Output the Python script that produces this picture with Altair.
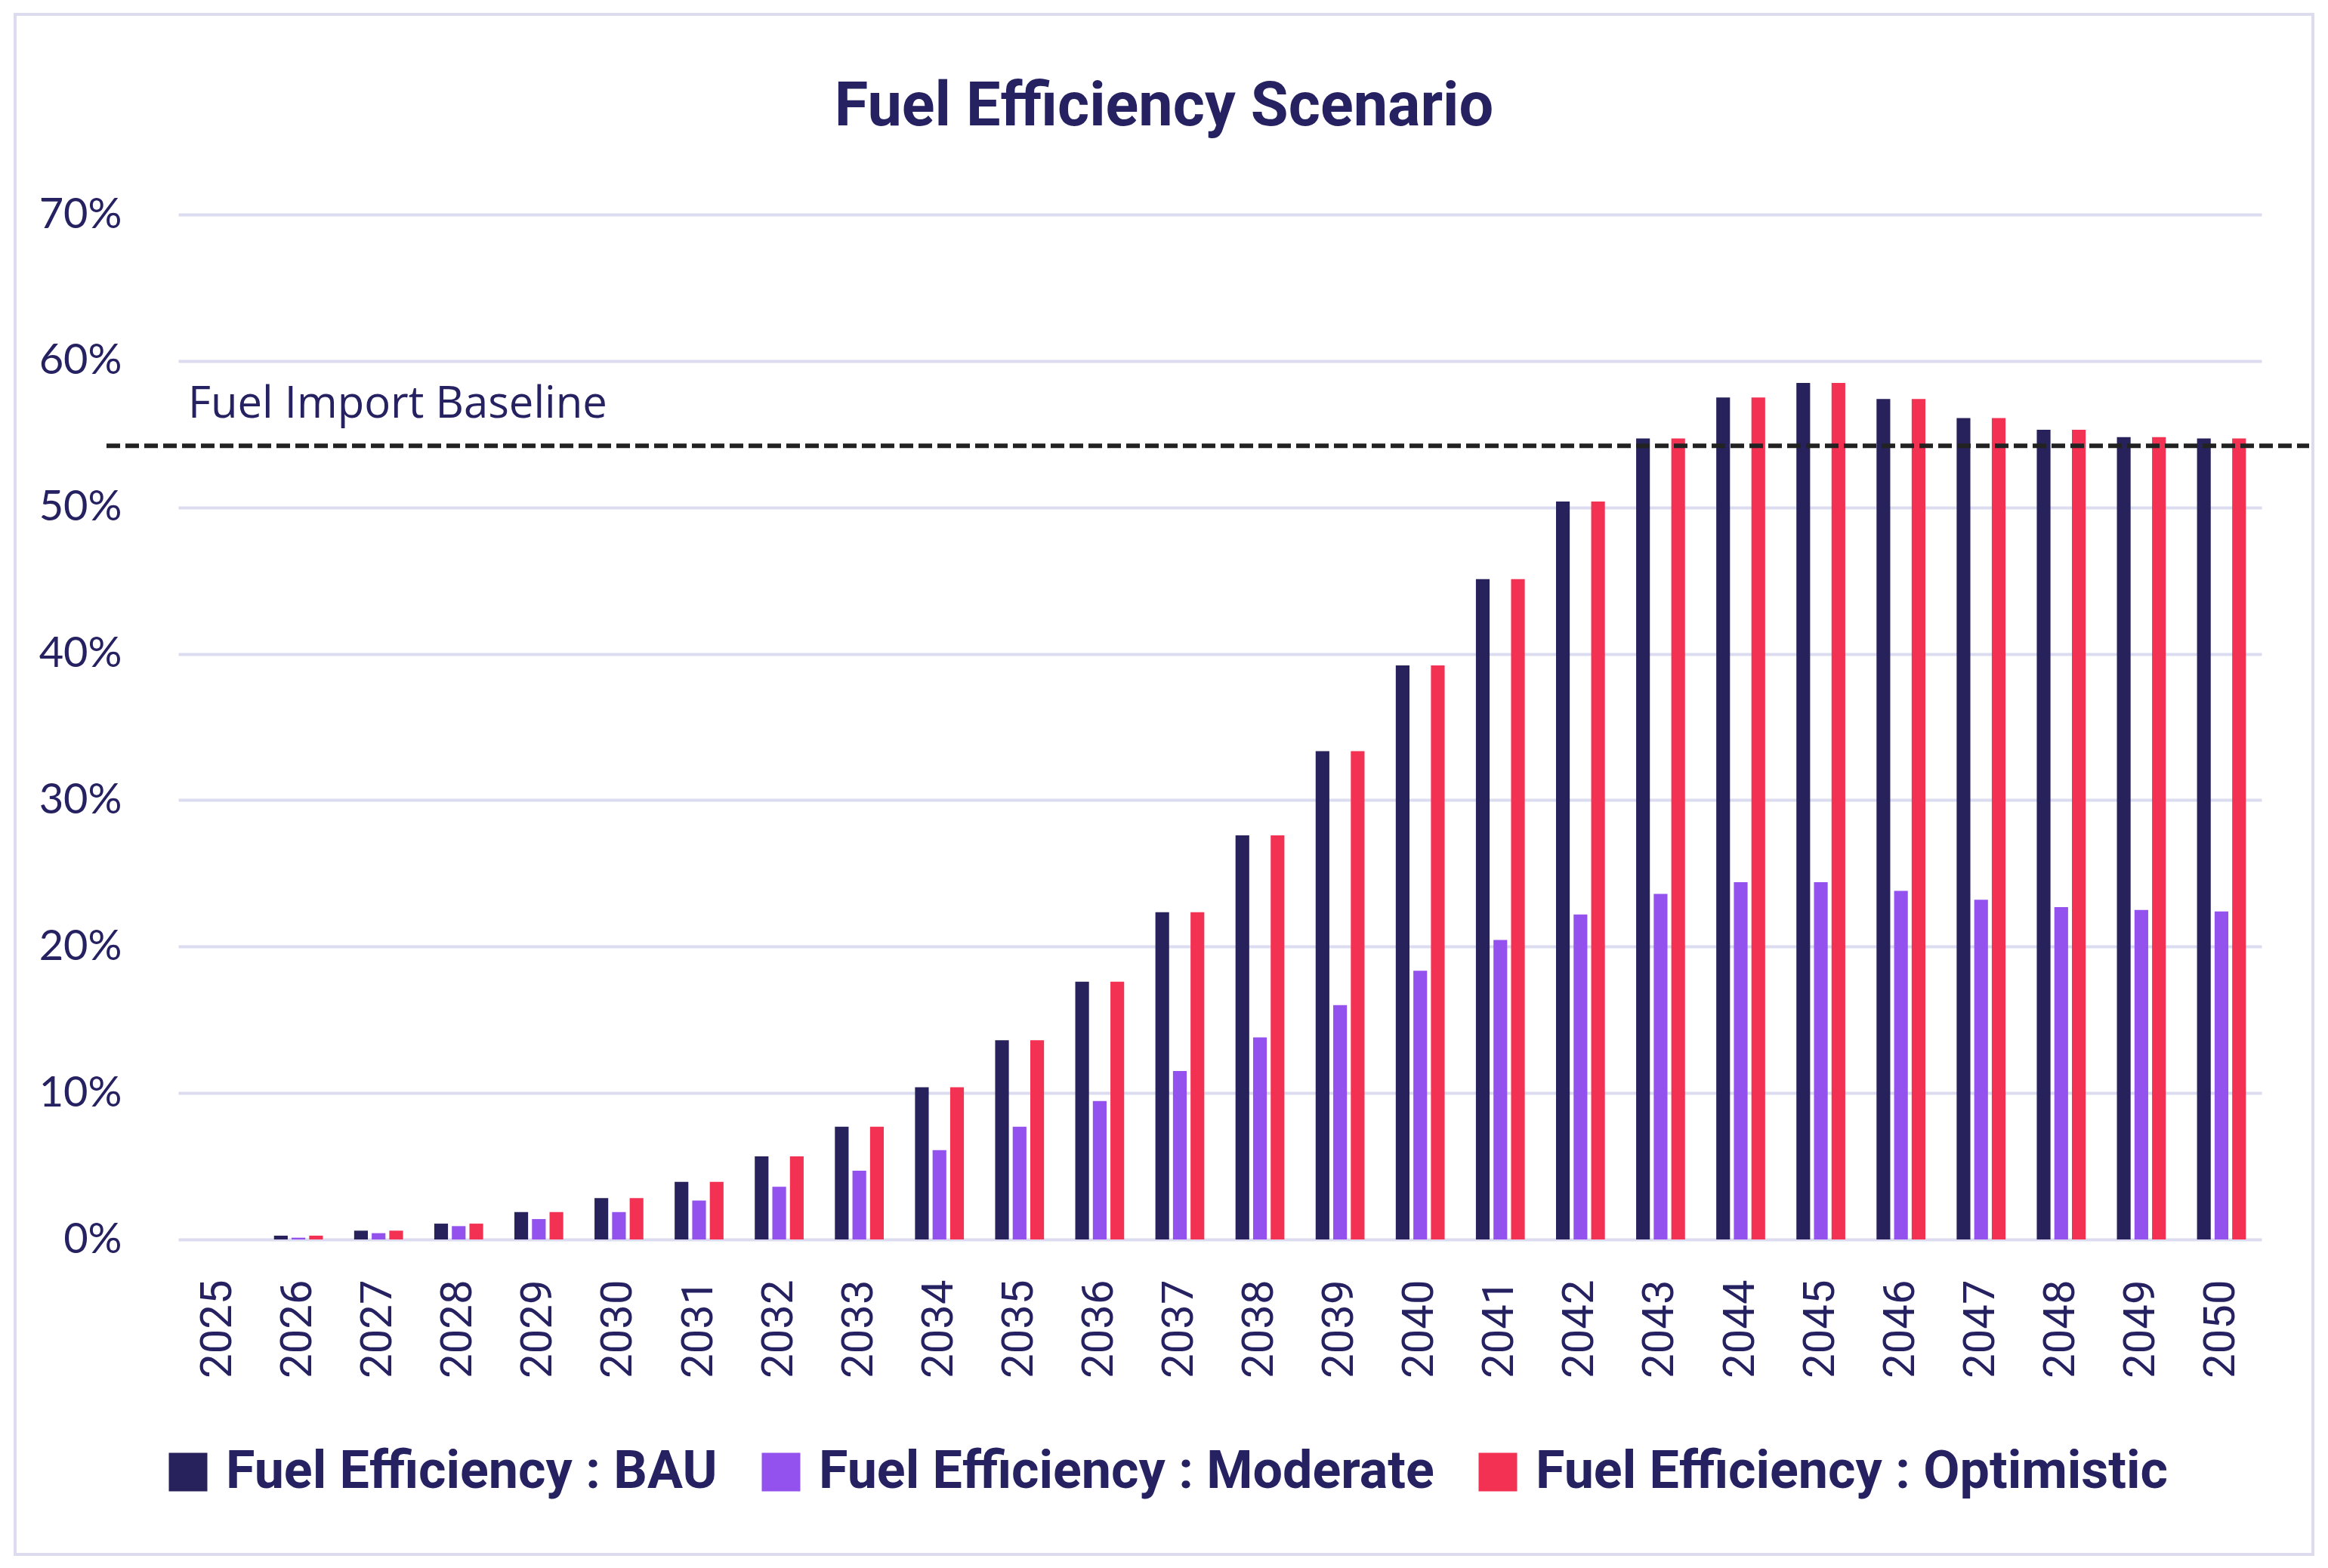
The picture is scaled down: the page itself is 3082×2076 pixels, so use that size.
import altair as alt
import pandas as pd

# ---- data ----
years = ["2025", "2026", "2027", "2028", "2029", "2030", "2031", "2032", "2033",
         "2034", "2035", "2036", "2037", "2038", "2039", "2040", "2041", "2042",
         "2043", "2044", "2045", "2046", "2047", "2048", "2049", "2050"]

bau = [0.0, 0.26, 0.6, 1.08, 1.87, 2.82, 3.93, 5.67, 7.7, 10.4, 13.6, 17.6, 22.35,
       27.6, 33.35, 39.2, 45.1, 50.4, 54.7, 57.5, 58.5, 57.4, 56.1, 55.3, 54.8, 54.7]

moderate = [0.0, 0.12, 0.43, 0.91, 1.39, 1.87, 2.66, 3.6, 4.7, 6.1, 7.7, 9.45, 11.5,
            13.8, 16.0, 18.35, 20.45, 22.2, 23.6, 24.4, 24.4, 23.8, 23.2, 22.7, 22.5, 22.4]

optimistic = [0.0, 0.26, 0.6, 1.08, 1.87, 2.82, 3.93, 5.67, 7.7, 10.4, 13.6, 17.6, 22.35,
              27.6, 33.35, 39.2, 45.1, 50.4, 54.7, 57.5, 58.5, 57.4, 56.1, 55.3, 54.8, 54.7]

series = ["Fuel Efficiency : BAU", "Fuel Efficiency : Moderate", "Fuel Efficiency : Optimistic"]
colors = ["#27225C", "#9351EE", "#F33152"]

baseline_value = 54.2
baseline_label = "Fuel Import Baseline"
title_text = "Fuel Efficiency Scenario"
y_ticks = [0, 10, 20, 30, 40, 50, 60, 70]

# ---- build table ----
rows = []
for name, vals in zip(series, [bau, moderate, optimistic]):
    for yr, v in zip(years, vals):
        rows.append({"Year": yr, "Scenario": name, "Value": v})
df = pd.DataFrame(rows)

base_df = pd.DataFrame({"Value": [baseline_value], "Label": [baseline_label]})
frame_df = pd.DataFrame({"k": [0]})

W, H = 2758, 1357
NAVY = "#262262"

frame = alt.Chart(frame_df).mark_rect(
    fillOpacity=0, stroke="#DCDCEE", strokeWidth=4
).encode(
    x=alt.value(-216), x2=alt.value(2826), y=alt.value(-265), y2=alt.value(1774)
)

bars = alt.Chart(df).mark_bar().encode(
    x=alt.X(
        "Year:N", sort=years, title=None,
        scale=alt.Scale(paddingInner=0.39, paddingOuter=0.195),
        axis=alt.Axis(labelAngle=-90, labelFont="Roboto", labelFontSize=58,
                      labelColor=NAVY, labelPadding=53, ticks=False,
                      domain=False, grid=False),
    ),
    xOffset=alt.XOffset("Scenario:N", sort=series,
                        scale=alt.Scale(paddingInner=0.22, paddingOuter=0)),
    y=alt.Y(
        "Value:Q", title=None,
        scale=alt.Scale(domain=[0, 70]),
        axis=alt.Axis(values=y_ticks, labelExpr="datum.value + '%'",
                      labelFont="Lato", labelFontSize=56, labelColor=NAVY,
                      labelPadding=75, ticks=False, domain=False,
                      grid=True, gridColor="#DCDCF0", gridWidth=4),
    ),
    color=alt.Color(
        "Scenario:N", title=None,
        scale=alt.Scale(domain=series, range=colors),
        legend=alt.Legend(orient="none", legendX=-22, legendY=1630,
                          direction="horizontal", symbolType="square",
                          symbolSize=2601, symbolStrokeWidth=0, symbolOpacity=1,
                          labelFont="Roboto", labelFontWeight="bold",
                          labelFontSize=70, labelColor=NAVY, labelOffset=15,
                          columnPadding=49, labelLimit=2000, padding=0),
    ),
)

rule = alt.Chart(base_df).mark_rule(
    color="#222222", strokeWidth=6, strokeDash=[18, 7]
).encode(
    y=alt.Y("Value:Q", title=None), x=alt.value(-95), x2=alt.value(2821)
)

label = alt.Chart(base_df).mark_text(
    align="left", baseline="alphabetic", dy=-37, font="Open Sans",
    fontSize=58, color=NAVY
).encode(
    y=alt.Y("Value:Q", title=None), x=alt.value(13), text="Label:N"
)

chart = alt.layer(frame, bars, rule, label).properties(
    width=W, height=H,
    autosize=alt.AutoSizeParams(type="none"),
    padding={"left": 228, "top": 276, "right": 78, "bottom": 427},
    background="white",
    title=alt.TitleParams(text=title_text, font="Roboto", fontSize=81,
                          fontWeight="bold", color=NAVY, anchor="middle",
                          frame="bounds", offset=-166),
).configure_view(strokeWidth=0)

chart.save("out.html", embed_options={"renderer": "svg", "actions": False})
